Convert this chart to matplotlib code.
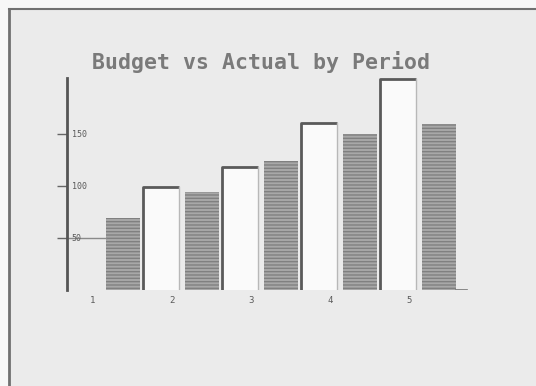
import matplotlib.pyplot as plt
from matplotlib.patches import Rectangle
import numpy as np

periods = [1, 2, 3, 4, 5]
period_labels = ["1", "2", "3", "4", "5"]
actual = [69, 94, 124, 150, 160]
budget = [99, 118, 161, 203]          # no budget bar shown for period 5
yticks = [50, 100, 150]
ytick_labels = ["50", "100", "150"]
title = "Budget vs Actual by Period"

W, H = 536, 386
fig = plt.figure(figsize=(W/100, H/100), dpi=100)
fig.patch.set_facecolor('#f7f7f7')

# screen area (photo of a monitor)
fig.patches.append(Rectangle((9/W, 0), 1, (H-9)/H, transform=fig.transFigure,
                             facecolor='#ebebeb', edgecolor='none', zorder=-2))
fig.add_artist(plt.Line2D([9/W, 1], [(H-9)/H]*2, transform=fig.transFigure,
                          color='#707070', lw=1.5))
fig.add_artist(plt.Line2D([9/W]*2, [0, (H-9)/H], transform=fig.transFigure,
                          color='#707070', lw=2))

# axes placed so that x=1 sits at the "1" label and y=0 at the baseline
x_left, x_right = 1 - 26/79, 1 + (470-93)/79
ax = fig.add_axes([67/W, (H-290)/H, (470-67)/W, (290-78)/H])
ax.set_facecolor('none')
ax.set_xlim(x_left, x_right)
ax.set_ylim(0, 204)

x = np.array(periods, dtype=float)
ax.bar(x + 0.165, actual, width=0.43, align='edge', color='#a8a8a8',
       edgecolor='#808080', hatch='-----', linewidth=0)

bx = x[:len(budget)] + 0.63
bars = ax.bar(bx, budget, width=0.455, align='edge', color='#fafafa',
              edgecolor='none')
for b in bars:
    x0, w, h = b.get_x(), b.get_width(), b.get_height()
    ax.plot([x0, x0, x0 + w], [0, h, h], color='#5a5a5a', lw=2,
            solid_capstyle='butt')
    ax.plot([x0 + w, x0 + w], [0, h], color='#b8b8b8', lw=1)

# short baseline stub after the last bar
last = x[-1] + 0.165 + 0.43
ax.plot([last, last + 0.14], [0, 0], color='#777777', lw=1.2)
ax.plot([x_left, x[0] + 0.165], [50, 50], color='#8a8a8a', lw=1)

for s in ['top', 'right', 'bottom']:
    ax.spines[s].set_visible(False)
ax.spines['left'].set_color('#555555')
ax.spines['left'].set_linewidth(2)

ax.set_yticks(yticks)
ax.set_yticklabels([])
ax.tick_params(axis='y', direction='out', length=7, width=1, color='#666666')
for v, lab in zip(yticks, ytick_labels):
    ax.text(0.012, v, lab, transform=ax.get_yaxis_transform(), ha='left',
            va='center', fontsize=6, family='DejaVu Sans Mono', color='#5a5a5a')

ax.set_xticks(periods)
ax.set_xticklabels(period_labels, fontsize=6.5, family='DejaVu Sans Mono',
                   color='#5a5a5a')
ax.tick_params(axis='x', length=0, pad=4)

fig.text(261/W, 1 - 62/H, title, ha='center', va='center', fontsize=15.5,
         family='DejaVu Sans Mono', weight='bold', color='#7a7a7a')

fig.savefig('out.png', dpi=100, facecolor=fig.get_facecolor())
